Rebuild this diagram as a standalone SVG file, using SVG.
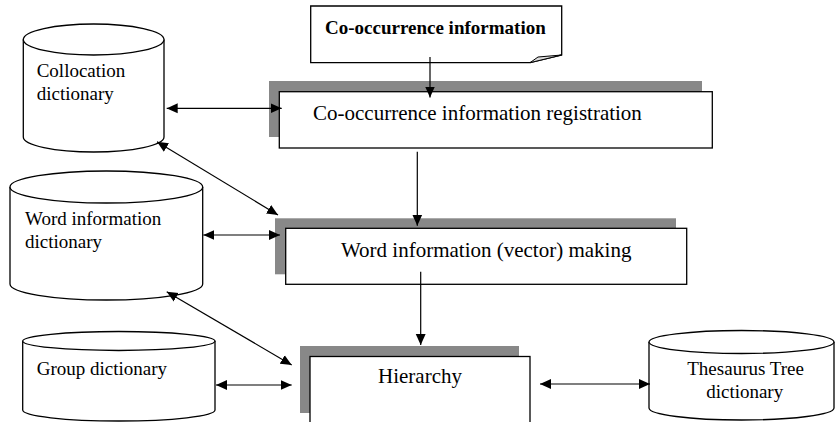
<svg xmlns="http://www.w3.org/2000/svg" width="836" height="422" viewBox="0 0 836 422">
<style>
.shape{fill:#fff;stroke:#000;stroke-width:1.3}
.shadow{fill:#888}
.conn{stroke:#000;stroke-width:1.2;fill:none}
.t{font-family:"Liberation Serif","Times New Roman",serif;fill:#000}
.cyl{font-size:19px}
.box{font-size:21px}
.bold{font-size:19px;font-weight:bold}
</style>
<defs>
<marker id="ah" viewBox="0 0 10 10" refX="10" refY="5" markerWidth="11" markerHeight="11" markerUnits="userSpaceOnUse" orient="auto-start-reverse">
<path d="M0,0.5 L10,5 L0,9.5 Z" fill="#000"/>
</marker>
</defs>
<rect width="836" height="422" fill="#fff"/>

<g id="note">
<path class="shape" d="M310.7,6 H561.7 V55 L530,62.7 H310.7 Z"/>
<path d="M530,62.7 L538,57 L561.7,55 Z" fill="#ddd" stroke="#000" stroke-width="1"/>
<text class="t bold" x="325" y="33.5">Co-occurrence information</text>
</g>

<g id="registration">
<rect class="shadow" x="269" y="81" width="433" height="56"/>
<rect class="shape" x="279.3" y="91.7" width="433" height="56.3"/>
<text class="t box" x="313" y="120">Co-occurrence information registration</text>
</g>

<g id="wordvector">
<rect class="shadow" x="275" y="218.3" width="401" height="56"/>
<rect class="shape" x="285.7" y="228.3" width="401" height="56"/>
<text class="t box" x="486.2" y="256.7" text-anchor="middle">Word information (vector) making</text>
</g>

<g id="hierarchy">
<rect class="shadow" x="300" y="346" width="219" height="67"/>
<rect class="shape" x="310" y="356.5" width="220" height="67.5"/>
<text class="t box" x="420" y="383.3" text-anchor="middle">Hierarchy</text>
</g>

<g id="collocation">
<path class="shape" d="M23.3,39.5 V137 A70.35,15 0 0 0 164,137 V39.5"/>
<ellipse class="shape" cx="93.65" cy="39.5" rx="70.35" ry="15.5"/>
<text class="t cyl" x="36.7" y="77">Collocation</text>
<text class="t cyl" x="36.7" y="100">dictionary</text>
</g>

<g id="wordinfo">
<path class="shape" d="M10,187 V284 A96.35,16 0 0 0 202.7,284 V187"/>
<ellipse class="shape" cx="106.35" cy="187" rx="96.35" ry="16"/>
<text class="t cyl" x="25" y="225">Word information</text>
<text class="t cyl" x="25" y="248.3">dictionary</text>
</g>

<g id="group">
<path class="shape" d="M22.7,341 V410 A96.15,11 0 0 0 215,410 V341"/>
<ellipse class="shape" cx="118.85" cy="341" rx="96.15" ry="9.5"/>
<text class="t cyl" x="36.7" y="375">Group dictionary</text>
</g>

<g id="thesaurus">
<path class="shape" d="M649,342 V408 A92.5,12 0 0 0 834,408 V342"/>
<ellipse class="shape" cx="741.5" cy="342" rx="92.5" ry="11.5"/>
<text class="t cyl" x="745.6" y="375" text-anchor="middle">Thesaurus Tree</text>
<text class="t cyl" x="744.7" y="398.3" text-anchor="middle">dictionary</text>
</g>

<g id="connectors">
<line class="conn" x1="430" y1="57" x2="430" y2="97.5" marker-end="url(#ah)"/>
<line class="conn" x1="417.3" y1="151.7" x2="417.3" y2="225.7" marker-end="url(#ah)"/>
<line class="conn" x1="420.7" y1="271.7" x2="420.7" y2="345" marker-end="url(#ah)"/>
<line class="conn" x1="166.7" y1="108.3" x2="281.7" y2="108.3" marker-start="url(#ah)" marker-end="url(#ah)"/>
<line class="conn" x1="157" y1="141.7" x2="278" y2="215" marker-start="url(#ah)" marker-end="url(#ah)"/>
<line class="conn" x1="203.3" y1="235" x2="280" y2="235" marker-start="url(#ah)" marker-end="url(#ah)"/>
<line class="conn" x1="166.7" y1="291.7" x2="291.7" y2="365" marker-start="url(#ah)" marker-end="url(#ah)"/>
<line class="conn" x1="216" y1="385" x2="291.7" y2="385" marker-start="url(#ah)" marker-end="url(#ah)"/>
<line class="conn" x1="540" y1="384" x2="650" y2="384" marker-start="url(#ah)" marker-end="url(#ah)"/>
</g>
</svg>
